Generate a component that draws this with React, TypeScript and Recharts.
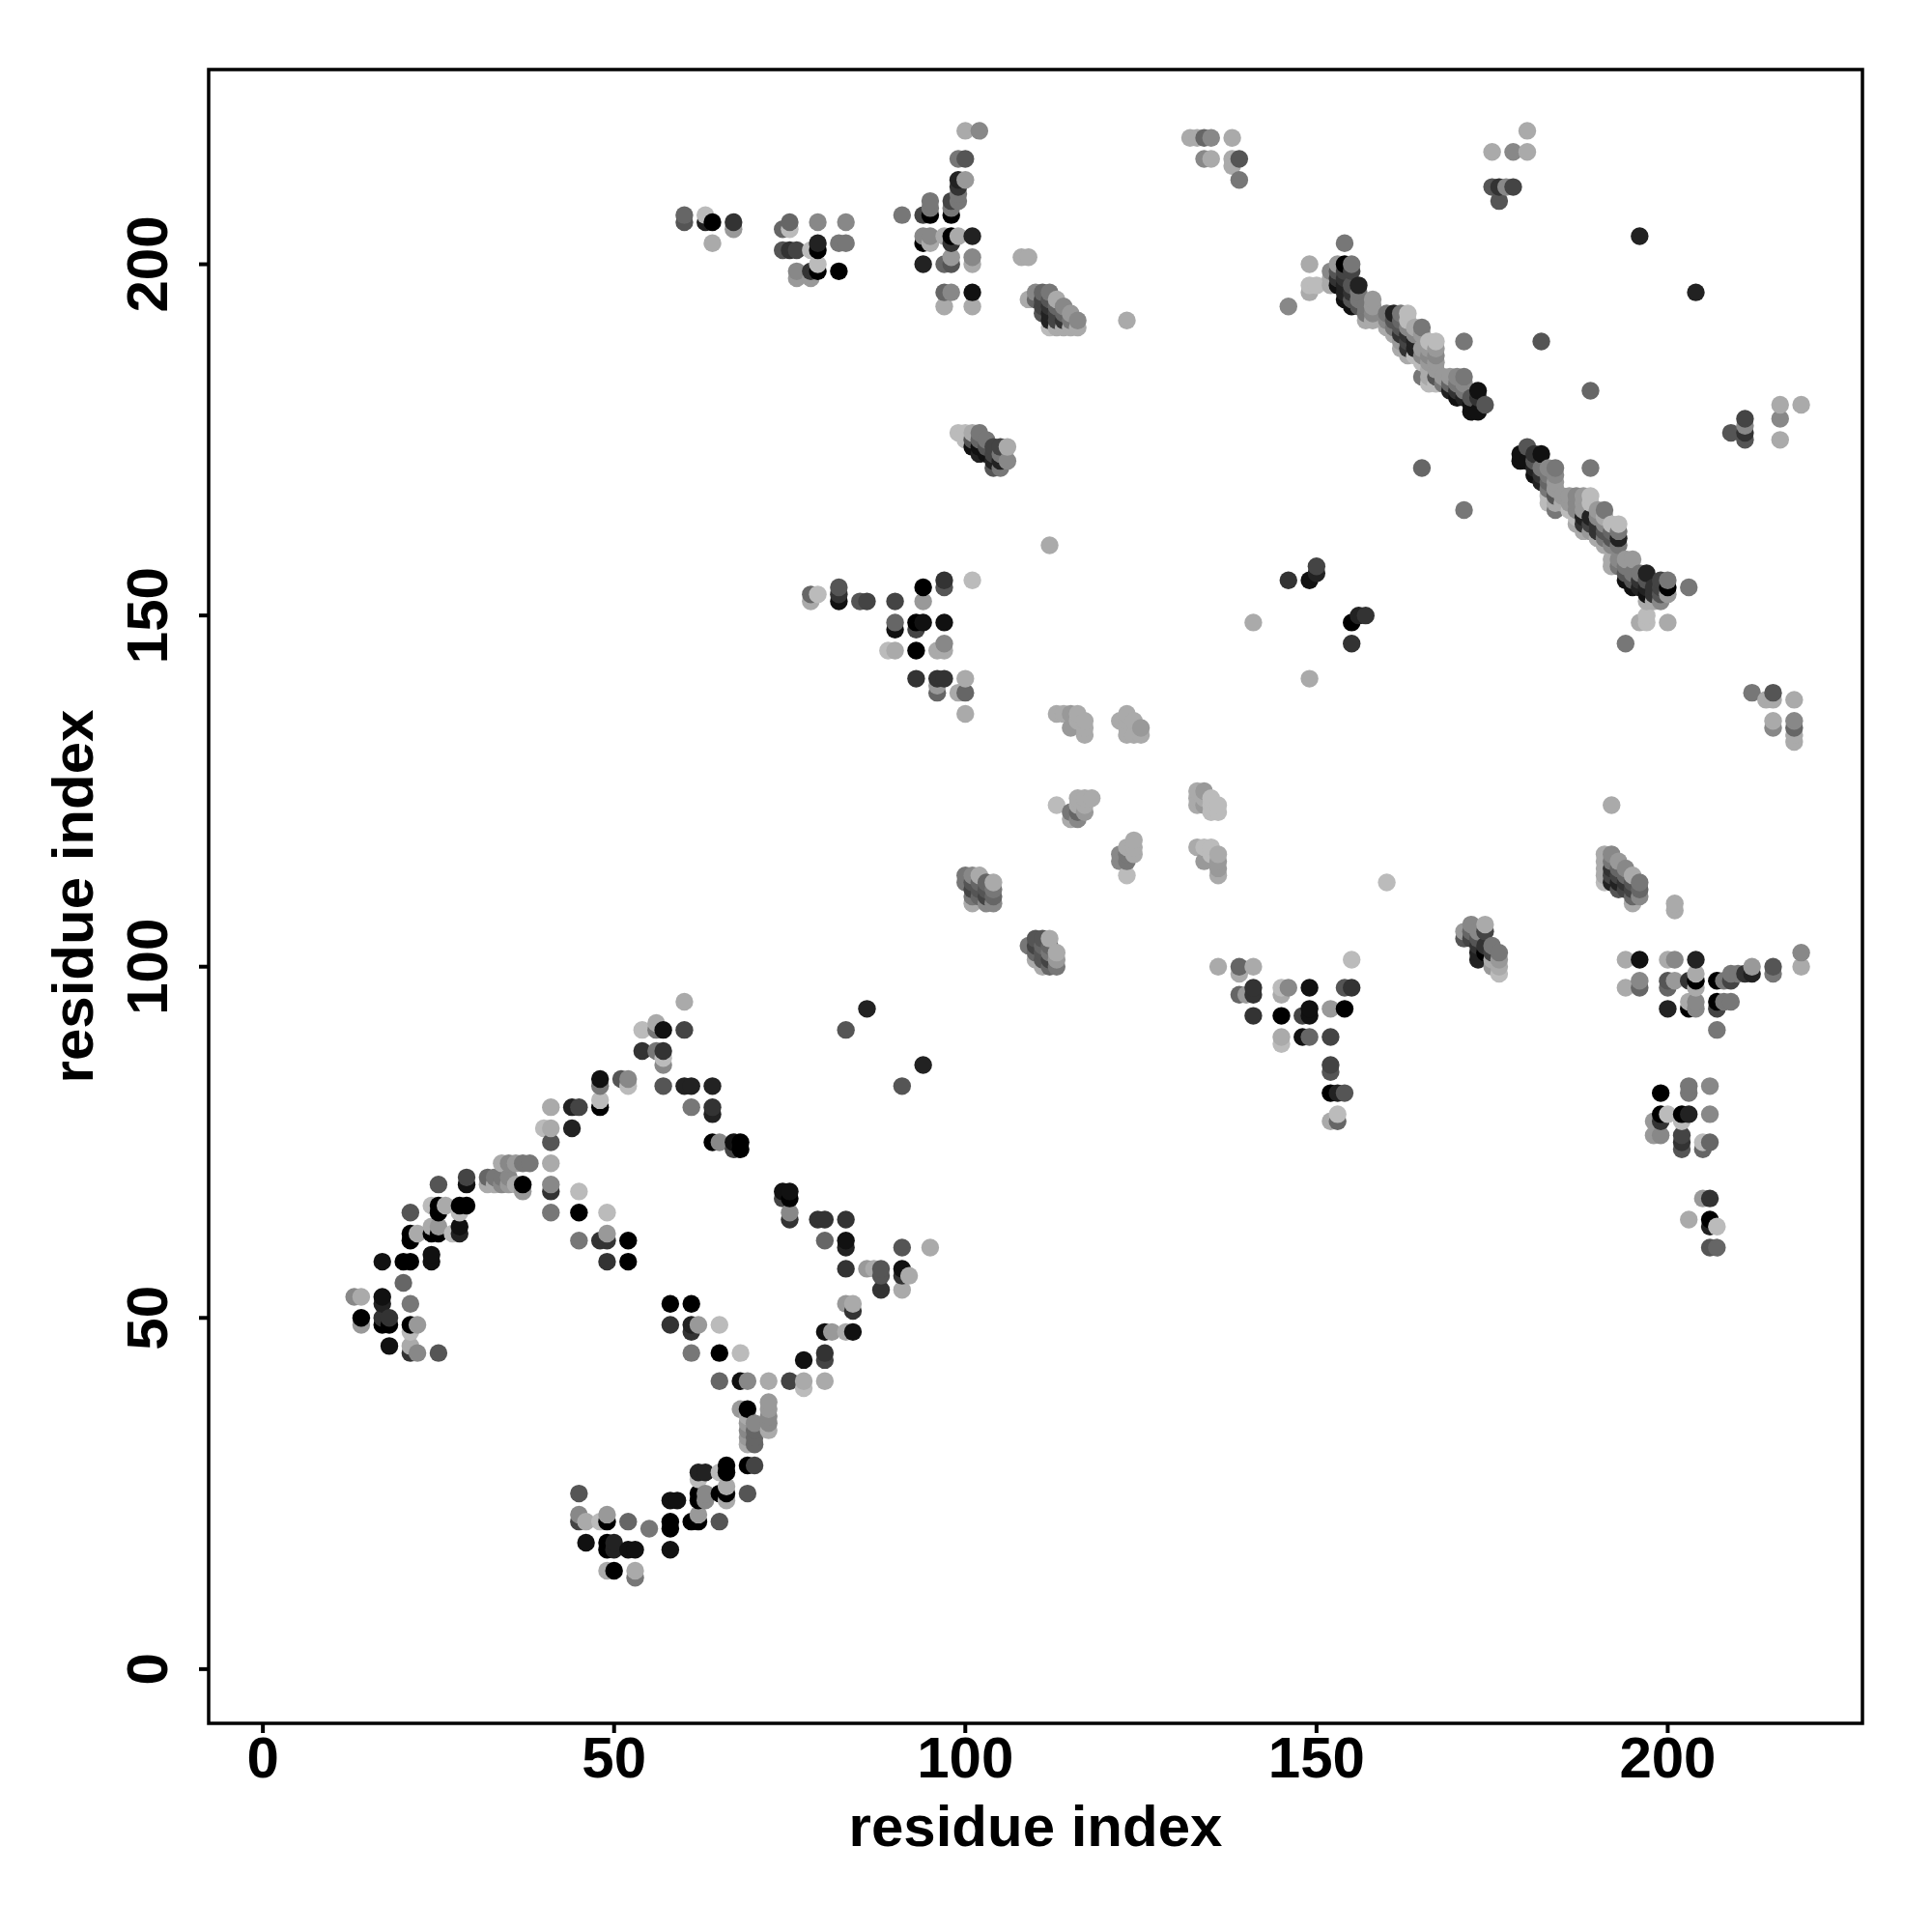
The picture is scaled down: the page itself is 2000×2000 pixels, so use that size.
import { ScatterChart, Scatter, XAxis, YAxis, ReferenceArea } from "recharts";

// [residue i, residue j, score]  score 0 = strongest contact (black) .. 11 = weakest (light grey)
type Contact = [number, number, number];

const tickValues = [0, 50, 100, 150, 200];
const axisTitle = "residue index";

const nTermContacts: Contact[] = [
  [60,95,10],[54,91,11],[56,92,10],[56,91,7],[57,91,1],[60,91,4],[54,88,3],[56,88,7],[57,88,3],[57,87,11],[57,86,8],
  [51,84,5],[52,84,8],[52,83,11],[48,84,1],[48,83,7],[48,81,11],[48,80,0],[57,83,5],[60,83,2],[61,83,2],[64,83,2],
  [61,80,7],[64,80,3],[64,79,2],[64,75,0],[65,75,8],[67,75,1],[68,75,0],[67,74,4],[68,74,0],[41,80,10],[44,80,2],
  [45,80,4],[44,77,2],[40,77,11],[41,77,10],[41,75,5],[41,72,10],[41,69,8],[41,68,3],[41,65,7],[45,68,11],[45,65,0],
  [49,65,11],[49,62,9],[45,61,7],[48,61,3],[49,61,3],[52,61,0],[49,58,3],[52,58,0],
  [34,72,10],[35,72,8],[36,72,9],[37,72,7],[38,72,7],[32,70,6],[33,70,7],[34,70,7],[35,70,8],[32,69,10],[33,69,10],
  [34,69,8],[35,69,9],[36,69,10],[37,69,0],[37,68,9],[29,70,4],[29,69,1],[25,69,5],[21,65,5],[24,66,11],[25,66,0],
  [25,65,0],[26,66,10],[28,66,0],[29,66,0],[28,65,11],[28,63,1],[28,62,2],[27,62,11],[24,63,10],[25,63,9],[24,62,0],
  [25,62,0],[21,62,0],[22,62,10],[21,61,0],[17,58,1],[20,58,0],[21,58,0],[24,59,1],[24,58,1],[20,55,6],
  [13,53,8],[14,53,10],[17,53,1],[17,52,2],[21,52,7],[14,50,0],[14,49,9],[17,50,3],[18,50,3],[17,49,0],[18,49,0],
  [21,49,0],[22,49,9],[21,48,11],[18,46,1],[21,46,10],[21,45,3],[22,45,8],[25,45,5],
  [58,52,0],[61,52,0],[58,49,3],[61,49,2],[62,49,9],[65,49,11],[61,48,3],[61,45,7],[65,45,0],[68,45,11],
  [65,41,6],[68,41,1],[69,41,8],[72,41,10],[68,37,9],[69,37,0],[72,38,9],[72,37,9],[72,36,8],[72,35,8],[72,34,10],
  [69,36,10],[69,35,9],[69,34,8],[69,33,9],[69,32,10],[70,35,8],[70,34,6],[70,33,6],[70,32,6],
  [69,29,0],[70,29,4],[66,29,0],[66,28,0],[65,28,11],[62,28,2],[63,28,2],[62,27,11],[66,26,10],[66,25,0],[66,24,10],
  [65,25,0],[62,25,0],[63,25,8],[62,24,0],[63,24,8],[62,22,9],[69,25,5],[58,24,1],[59,24,1],[58,21,0],[58,20,0],
  [61,21,0],[62,21,0],[65,21,5],[58,17,1],[55,20,7],[52,21,6],[49,22,9],[49,21,0],[48,21,11],[46,21,10],[45,22,8],
  [45,21,4],[45,25,5],[46,18,1],[49,18,0],[50,18,2],[49,17,0],[50,17,2],[52,17,1],[53,17,1],[49,14,10],[50,14,0],
  [53,14,10],[53,13,7],
  [74,68,1],[75,68,1],[74,67,4],[75,67,0],[75,65,8],[75,64,3],[79,64,3],[80,64,3],[83,64,3],[80,61,6],[83,61,1],
  [83,60,2],[83,57,3],[86,57,9],[87,57,10],[88,57,5],[88,56,5],[88,54,3],[91,60,5],[91,57,1],[91,56,3],[92,56,10],
  [91,54,10],[95,60,10],[83,52,9],[84,52,10],[84,51,3],[84,48,1],[83,48,10],[81,48,9],[80,48,1],[80,45,3],[80,44,4],
  [77,44,1],[80,41,10],[77,41,10],[77,40,11],[75,41,4],
  [83,91,5],[86,94,2],[94,86,2],[91,83,5],
];

const upperBlock: Contact[] = [
  [60,207,6],[60,206,5],[63,207,11],[63,206,2],[64,206,0],[64,203,10],[67,206,3],[67,205,9],[74,205,6],[75,206,6],
  [75,205,11],[79,206,8],[83,206,8],[74,202,5],[75,202,3],[76,202,4],[78,202,11],[79,203,2],[79,202,0],[82,203,7],
  [83,203,7],[76,199,8],[76,198,9],[78,199,3],[78,198,9],[79,200,11],[79,199,0],[82,199,0],[91,207,7],[94,207,4],
  [95,209,7],[95,208,7],[95,207,0],[98,207,0],[98,208,7],[98,209,4],[99,209,7],[99,210,7],[99,211,3],[99,212,2],
  [100,212,9],[99,215,7],[100,215,5],[100,219,10],[102,219,8],[94,204,8],[95,204,8],[94,203,0],[95,203,10],[97,204,10],
  [98,204,0],[99,204,10],[98,203,3],[101,204,2],[94,200,2],[97,200,6],[98,201,9],[98,200,5],[101,201,8],[101,200,10],
  [97,196,6],[98,196,8],[101,196,1],[97,194,10],[101,194,10],
];

const lowerBlock: Contact[] = [
  [207,60,6],[206,60,5],[207,63,11],[206,63,2],[206,64,0],[203,64,10],[206,67,3],[205,67,9],[205,74,6],[206,75,6],
  [205,75,11],[206,79,8],[206,83,8],[202,74,5],[202,75,3],[202,76,4],[202,78,11],[203,79,2],[202,79,0],[203,82,7],
  [203,83,7],[199,76,8],[198,76,9],[199,78,3],[198,78,9],[200,79,11],[199,79,0],[199,82,0],[207,91,7],[207,94,4],
  [209,95,7],[208,95,7],[207,95,0],[207,98,0],[208,98,7],[209,98,4],[209,99,7],[210,99,7],[211,99,3],[212,99,2],
  [212,100,9],[215,99,7],[215,100,5],[219,100,10],[219,102,8],[204,94,8],[204,95,8],[203,94,0],[203,95,10],[204,97,10],
  [204,98,0],[204,99,10],[203,98,3],[204,101,2],[200,94,2],[200,97,6],[201,98,9],[200,98,5],[201,101,8],[200,101,10],
  [196,97,6],[196,98,8],[196,101,1],[194,97,10],[194,101,10],
];

const sideClusters: Contact[] = [
  [108,201,10],[109,201,10],[109,195,10],[110,196,8],[111,196,6],[112,196,7],[110,195,6],[111,195,4],[112,195,5],[113,195,10],
  [111,194,4],[112,194,3],[113,194,6],[114,194,8],[111,193,5],[112,193,2],[113,193,4],[114,193,6],[115,193,9],
  [112,192,2],[113,192,4],[114,192,3],[115,192,7],[116,192,8],[112,191,11],[113,191,10],[114,191,10],[115,191,10],[116,191,10],
  [123,192,10],
  [201,108,10],[201,109,10],[195,109,10],[196,110,8],[196,111,6],[196,112,7],[195,110,6],[195,111,4],[195,112,5],[195,113,10],
  [194,111,4],[194,112,3],[194,113,6],[194,114,8],[193,111,5],[193,112,2],[193,113,4],[193,114,6],[193,115,9],
  [192,112,2],[192,113,4],[192,114,3],[192,115,7],[192,116,8],[191,112,11],[191,113,10],[191,114,10],[191,115,10],[191,116,10],
  [192,123,10],
  [99,176,11],[100,176,11],[101,176,10],[102,176,7],[100,175,11],[101,175,5],[102,175,6],[103,175,7],[101,174,1],[102,174,1],
  [103,174,5],[104,174,4],[105,174,4],[106,174,10],[102,173,2],[103,173,1],[104,173,4],[105,173,7],[104,172,2],[105,172,2],
  [106,172,8],[104,171,5],[105,171,7],
  [172,106,8],[174,106,10],[171,105,9],[172,105,6],[173,105,8],[174,105,4],[171,104,5],[172,104,4],[173,104,5],[173,103,3],
  [174,103,3],[175,103,7],[176,102,7],[173,102,2],[174,102,0],[175,102,4],[173,101,2],[175,101,10],[176,101,9],[176,100,10],
  [175,100,9],[176,99,11],
];

const midBlock: Contact[] = [
  [78,152,10],[78,153,6],[79,153,11],[82,152,1],[82,153,3],[82,154,5],[85,152,5],[86,152,4],[89,145,11],[90,145,10],
  [90,148,1],[90,149,6],[90,152,4],[93,141,3],[93,145,0],[93,148,4],[93,149,0],[94,149,1],[94,152,9],[94,154,0],
  [96,139,6],[96,140,9],[96,141,3],[96,145,10],[97,141,3],[97,145,10],[97,146,8],[97,149,1],[97,154,5],[97,155,3],
  [99,139,10],[100,136,10],[100,139,6],[100,141,10],[101,155,11],
  [136,100,10],[139,100,6],[139,99,10],[139,96,6],[140,96,9],[141,97,3],[141,96,3],[141,93,3],[141,100,10],[145,97,11],
  [146,97,8],[145,96,10],[145,93,0],[149,97,1],[148,93,4],[149,94,1],[149,93,1],[152,94,9],[154,94,0],[154,97,5],
  [155,97,3],[155,101,11],[145,90,10],[145,89,11],[148,90,1],[149,90,6],[152,90,4],[152,86,4],[152,85,5],[152,82,0],
  [153,82,2],[154,82,5],[153,79,11],[152,78,10],[153,78,6],
];

const lightClusters: Contact[] = [
  [113,136,10],[114,136,10],[115,136,9],[116,136,10],[115,134,9],[116,135,10],[117,135,10],[117,134,10],[117,133,10],
  [123,136,10],[122,135,10],[123,135,10],[124,135,10],[123,134,10],[125,134,9],[123,133,10],[124,133,10],[125,133,10],
  [113,123,11],[115,122,7],[116,124,10],[117,124,10],[118,124,10],[116,123,10],[117,123,10],[116,122,6],[117,122,9],[115,121,10],[116,121,8],
  [133,125,10],[134,125,9],[133,124,10],[134,124,10],[135,124,11],[133,123,10],[134,123,9],[135,123,11],[136,123,11],[135,122,11],[136,122,11],
  [124,118,10],[123,117,10],[124,117,10],[122,116,8],[123,116,7],[124,116,10],[122,115,8],[123,115,7],[123,113,11],
  [133,117,10],[134,117,11],[135,117,11],[135,116,11],[136,116,10],[134,115,9],[136,115,9],[136,114,9],[136,113,10],
  [112,160,10],[160,112,11],
  [100,113,7],[101,113,8],[102,113,10],[100,112,7],[101,112,5],[102,112,6],[103,112,6],[104,112,10],[101,111,4],[102,111,5],
  [103,111,5],[104,111,7],[101,110,7],[102,110,6],[103,110,4],[104,110,6],[101,109,10],[103,109,8],[104,109,8],
  [110,104,5],[111,104,5],[112,104,10],[109,103,7],[110,103,4],[111,103,6],[112,103,6],[110,102,6],[111,102,5],[112,102,7],
  [113,102,10],[110,101,10],[111,101,5],[112,101,4],[113,101,9],[111,100,10],[112,100,6],[113,100,7],
];

const cornerClusters: Contact[] = [
  [132,218,10],[133,218,10],[134,218,6],[135,218,8],[138,218,10],[134,215,8],[135,215,10],[138,215,10],[139,215,5],[138,214,10],[139,212,7],
  [180,219,10],[175,216,10],[178,216,8],[180,216,10],[175,211,5],[176,211,3],[177,211,8],[178,211,4],[176,209,5],
  [218,132,10],[218,133,10],[218,134,6],[218,135,8],[218,138,10],[215,134,8],[215,135,10],[215,138,10],[215,139,5],[214,138,10],[212,139,7],
  [219,180,10],[216,175,10],[216,178,8],[216,180,10],[211,175,5],[211,176,3],[211,177,8],[211,178,4],[209,176,5],
];

const scattered: Contact[] = [
  [196,204,2],[204,196,2],[182,189,5],[189,182,6],[171,189,7],[189,171,7],[165,171,6],[171,165,7],
  [146,155,3],[149,155,1],[150,157,4],[150,156,2],[155,149,0],[156,150,2],[157,150,3],[155,146,3],
  [149,141,10],[141,149,10],[194,146,7],
];

const upperBand: Contact[] = [
  [146,194,8],[149,200,10],[149,197,11],[150,197,11],[149,196,10],[154,203,7],[153,200,9],[154,200,0],[155,200,7],
  [152,199,8],[153,199,5],[154,199,4],[155,199,4],[152,198,10],[153,198,3],[154,198,3],[152,197,10],[153,197,1],
  [154,197,2],[155,197,5],[156,197,2],[154,196,2],[155,196,3],[156,196,7],[154,195,1],[155,195,5],[156,195,7],
  [158,195,9],[155,194,1],[156,194,5],[157,194,7],[158,194,9],[157,193,7],[158,193,8],[157,192,10],[158,192,10],
  [160,193,7],[161,193,2],[162,193,7],[163,193,11],[160,192,8],[161,192,5],[162,192,6],[163,192,11],[160,191,10],
  [161,191,7],[162,191,5],[163,191,8],[164,191,10],[165,191,7],[161,190,10],[162,190,3],[163,190,3],[164,190,8],
  [165,190,9],[162,189,9],[163,189,4],[164,189,2],[166,189,11],[167,189,11],[162,188,10],[163,188,3],[164,188,2],
  [165,188,9],[166,188,9],[167,188,9],[163,187,10],[164,187,11],[165,187,8],[166,187,8],[167,187,8],[165,186,11],
  [166,186,9],[167,186,9],[166,185,10],[167,185,9],[165,184,7],[166,184,10],[167,184,5],[168,184,9],[169,184,9],
  [170,184,8],[171,184,7],[166,183,11],[167,183,11],[168,183,7],[169,183,6],[170,183,7],[171,183,8],[169,182,2],
  [170,182,3],[171,182,7],[173,182,1],[170,181,1],[171,181,2],[172,181,5],[173,181,3],[172,180,1],[174,180,5],
  [172,179,1],[173,179,1],
];

const lowerBand: Contact[] = [
  [200,149,10],[197,149,11],[197,150,11],[196,149,10],[203,154,7],[200,153,9],[200,154,0],[200,155,7],
  [199,152,8],[199,153,5],[199,154,4],[199,155,4],[198,152,10],[198,153,3],[198,154,3],[197,152,10],[197,153,1],
  [197,154,2],[197,155,5],[197,156,2],[196,154,2],[196,155,3],[196,156,7],[195,154,1],[195,155,5],[195,156,7],
  [195,158,9],[194,155,1],[194,156,5],[194,157,7],[194,158,9],[193,157,7],[193,158,8],[192,157,10],[192,158,10],
  [193,160,7],[193,161,2],[193,162,7],[193,163,11],[192,160,8],[192,161,5],[192,162,6],[192,163,11],[191,160,10],
  [191,161,7],[191,162,5],[191,163,8],[191,164,10],[191,165,7],[190,161,10],[190,162,3],[190,163,3],[190,164,8],
  [190,165,9],[189,162,9],[189,163,4],[189,164,2],[189,166,11],[189,167,11],[188,162,10],[188,163,3],[188,164,2],
  [188,165,9],[188,166,9],[188,167,9],[187,163,10],[187,164,11],[187,165,8],[187,166,8],[187,167,8],[186,165,11],
  [186,166,9],[186,167,9],[185,166,10],[185,167,9],[184,165,7],[184,166,10],[184,167,5],[184,168,9],[184,169,9],
  [184,170,8],[184,171,7],[183,166,11],[183,167,11],[183,168,7],[183,169,6],[183,170,7],[183,171,8],[182,169,2],
  [182,170,3],[182,171,7],[182,173,1],[181,170,1],[181,171,2],[181,172,5],[181,173,3],[180,172,1],[180,174,5],
  [179,172,1],[179,173,1],
];

// R draws them in index order, so later columns sit on top
const contacts = [
  ...nTermContacts, ...upperBlock, ...lowerBlock, ...sideClusters, ...midBlock,
  ...lightClusters, ...cornerClusters, ...scattered, ...upperBand, ...lowerBand,
]
  .map(([i, j, score]) => ({ i, j, score }))
  .sort((a, b) => a.i - b.i || a.j - b.j);

const grey = (score: number) => {
  const v = score * 17;
  return `rgb(${v},${v},${v})`;
};

const font = { fontFamily: "'Liberation Sans', Arial, sans-serif", fontWeight: 700, fontSize: 60, fill: "#000" };
const range: [number, number] = [-7.72, 227.72];

const Dot = ({ cx, cy, payload }: any) => <circle cx={cx} cy={cy} r={9.2} fill={grey(payload.score)} />;

const XTick = ({ x, y, payload }: any) => (
  <text x={x} y={y} dy={44} textAnchor="middle" {...font}>
    {payload.value}
  </text>
);

const YTick = ({ x, y, payload }: any) => (
  <text transform={`translate(${x},${y}) rotate(-90)`} dy={-31} textAnchor="middle" {...font}>
    {payload.value}
  </text>
);

export default function App() {
  return (
    <div style={{ position: "absolute", left: 0, top: 0 }}>
      <ScatterChart width={2000} height={2000} margin={{ top: 72, right: 72, bottom: 0, left: 0 }}>
        <XAxis
          type="number"
          dataKey="i"
          domain={range}
          ticks={tickValues}
          height={216}
          interval={0}
          tick={XTick}
          tickLine={{ stroke: "#000", strokeWidth: 4 }}
          tickSize={10}
          axisLine={false}
          label={{ value: axisTitle, position: "insideBottom", offset: 89, style: font }}
        />
        <YAxis
          type="number"
          dataKey="j"
          domain={range}
          ticks={tickValues}
          width={216}
          interval={0}
          tick={YTick}
          tickLine={{ stroke: "#000", strokeWidth: 4 }}
          tickSize={10}
          axisLine={false}
          label={{ value: axisTitle, angle: -90, position: "insideLeft", offset: 75, style: { ...font, textAnchor: "middle" } }}
        />
        <Scatter data={contacts} isAnimationActive={false} shape={Dot} />
        <ReferenceArea x1={range[0]} x2={range[1]} y1={range[0]} y2={range[1]} fill="none" stroke="#000" strokeWidth={3.5} />
      </ScatterChart>
    </div>
  );
}
